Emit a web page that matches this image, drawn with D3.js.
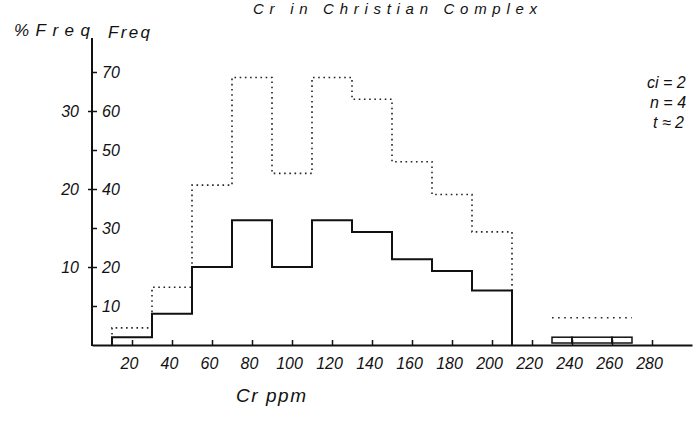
<!DOCTYPE html>
<html>
<head>
<meta charset="utf-8">
<script src="https://cdn.jsdelivr.net/npm/d3@7"></script>
<style>
  body { margin: 0; background: #fff; }
  svg { display: block; }
  text { font-family: "Liberation Sans", "DejaVu Sans", sans-serif; font-style: italic; fill: #111; }
</style>
</head>
<body>
<script>
  var w = 694;
  var h = 422;

  // bins of the solid histogram (Freq scale)
  var binStart = [10, 30, 50, 70, 90, 110, 130, 150, 170, 190];
  var binEnd   = [30, 50, 70, 90, 110, 130, 150, 170, 190, 210];
  var freq     = [2, 8, 20, 32, 20, 32, 29, 22, 19, 14];

  // dotted histogram (% Freq scale)
  var pctFreq  = [2.2, 7.4, 20.5, 34.3, 22, 34.3, 31.5, 23.5, 19.3, 14.5];

  // small tail boxes
  var tailStart = [230, 240, 260];
  var tailEnd   = [240, 260, 270];
  var tailFreq  = [2, 2, 2];
  var tailPct   = [3.5];
  var tailPctStart = [230];
  var tailPctEnd   = [270];

  var xTicks    = [20, 40, 60, 80, 100, 120, 140, 160, 180, 200, 220, 240, 260, 280];
  var xLabels   = ["20", "40", "60", "80", "100", "120", "140", "160", "180", "200", "220", "240", "260", "280"];
  var freqTicks = [10, 20, 30, 40, 50, 60, 70];
  var pctTicks  = [10, 20, 30];
  var notes     = ["ci = 2", "n = 4", "t ≈ 2"];

  var x = d3.scaleLinear().domain([0, 300]).range([92, 692]);
  var y = d3.scaleLinear().domain([0, 70]).range([345, 72]);
  var yPct = d3.scaleLinear().domain([0, 35]).range([345, 72]);

  var svg = d3.select("body")
              .append("svg")
              .attr("width", w)
              .attr("height", h);

  // title
  svg.append("text")
     .text("Cr in Christian Complex")
     .attr("x", 253)
     .attr("y", 14)
     .attr("font-size", "15px")
     .attr("textLength", 284)
     .attr("lengthAdjust", "spacing");

  svg.append("text").text("%Freq")
     .attr("x", 14).attr("y", 36)
     .attr("font-size", "17px")
     .attr("textLength", 76);

  svg.append("text").text("Freq")
     .attr("x", 108).attr("y", 38)
     .attr("font-size", "17px")
     .attr("textLength", 42);

  // y axis line
  svg.append("line")
     .attr("x1", x(0)).attr("x2", x(0))
     .attr("y1", 38).attr("y2", 346)
     .attr("stroke", "#111").attr("stroke-width", 2);

  var freqAxis = svg.append("g")
     .attr("transform", "translate(" + x(0) + ",0)")
     .call(d3.axisRight(y).tickValues(freqTicks).tickSize(5).tickPadding(5).tickSizeOuter(0));
  freqAxis.select(".domain").remove();

  var pctAxis = svg.append("g")
     .attr("transform", "translate(" + x(0) + ",0)")
     .call(d3.axisLeft(yPct).tickValues(pctTicks).tickSize(4).tickPadding(9).tickSizeOuter(0));
  pctAxis.select(".domain").remove();

  var xAxis = svg.append("g")
     .attr("transform", "translate(0," + y(0) + ")")
     .call(d3.axisBottom(x).tickValues(xTicks).tickFormat(function(d, i){return xLabels[i];})
            .tickSize(-5).tickPadding(13).tickSizeOuter(0));

  svg.selectAll(".tick line").attr("stroke", "#111").attr("stroke-width", 1.5);
  svg.selectAll(".tick text")
     .attr("font-family", "\"Liberation Sans\", sans-serif")
     .attr("font-style", "italic")
     .attr("font-size", "16px")
     .attr("fill", "#111");
  xAxis.select(".domain").attr("stroke", "#111").attr("stroke-width", 1.8);
  xAxis.selectAll(".tick text").attr("dx", "-3px");

  // build step outline from bins
  function steps(starts, ends, vals, scale) {
    var pts = [[x(starts[0]), scale(0)]];
    for (var i = 0; i < vals.length; i++) {
      pts.push([x(starts[i]), scale(vals[i])]);
      pts.push([x(ends[i]), scale(vals[i])]);
    }
    pts.push([x(ends[ends.length - 1]), scale(0)]);
    return pts;
  }

  var line = d3.line();

  // dotted histogram
  svg.append("path")
     .attr("d", line(steps(binStart, binEnd, pctFreq, yPct)))
     .attr("fill", "none")
     .attr("stroke", "#222")
     .attr("stroke-width", 1.6)
     .attr("stroke-dasharray", "1.6,3.6");

  svg.selectAll("line.tailpct")
     .data(tailPct)
     .enter()
     .append("line")
     .attr("class", "tailpct")
     .attr("x1", function(d, i){return x(tailPctStart[i]);})
     .attr("x2", function(d, i){return x(tailPctEnd[i]);})
     .attr("y1", function(d){return yPct(d);})
     .attr("y2", function(d){return yPct(d);})
     .attr("stroke", "#222")
     .attr("stroke-width", 1.6)
     .attr("stroke-dasharray", "1.6,4.5");

  // solid histogram
  svg.append("path")
     .attr("d", line(steps(binStart, binEnd, freq, y)))
     .attr("fill", "none")
     .attr("stroke", "#111")
     .attr("stroke-width", 2);

  svg.selectAll("rect.tail")
     .data(tailFreq)
     .enter()
     .append("rect")
     .attr("class", "tail")
     .attr("x", function(d, i){return x(tailStart[i]);})
     .attr("y", function(d){return y(d);})
     .attr("width", function(d, i){return x(tailEnd[i]) - x(tailStart[i]);})
     .attr("height", function(d){return y(0) - y(d) - 2;})
     .attr("fill", "none")
     .attr("stroke", "#111")
     .attr("stroke-width", 1.5);

  // x title
  svg.append("text").text("Cr ppm")
     .attr("x", 236).attr("y", 402)
     .attr("font-size", "19px")
     .attr("textLength", 70);

  // notes at right edge
  svg.selectAll("text.note")
     .data(notes)
     .enter()
     .append("text")
     .attr("class", "note")
     .text(function(d){return d;})
     .attr("x", function(d, i){return 647 + i * 3;})
     .attr("y", function(d, i){return 88 + i * 20;})
     .attr("font-size", "16px");
</script>
</body>
</html>
